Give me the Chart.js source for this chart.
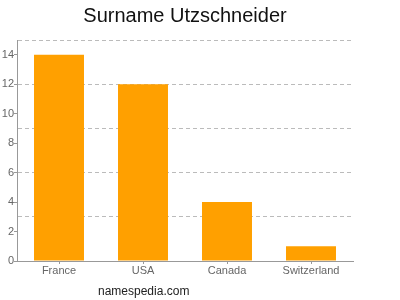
<!DOCTYPE html>
<html>
<head>
<meta charset="utf-8">
<script src="https://cdn.jsdelivr.net/npm/chart.js@4"></script>
<style>
  html, body { margin: 0; padding: 0; background: #fff; }
  #wrap { position: relative; width: 400px; height: 300px; }
  #c { display: block; }
  #wm { position: absolute; left: 98px; top: 284px; font: 12px "Liberation Sans", Arial, sans-serif; color: #222; white-space: nowrap; }
</style>
</head>
<body>
<div id="wrap">
  <canvas id="c" width="400" height="300"></canvas>
  <div id="wm">namespedia.com</div>
</div>
<script>
const titleText = "Surname Utzschneider";
const categories = ["France", "USA", "Canada", "Switzerland"];
const counts = [14, 12, 4, 1];
const yMax = 15;

const FONT = "'Liberation Sans', Arial, sans-serif";

new Chart(document.getElementById('c'), {
  type: 'bar',
  data: {
    labels: categories,
    datasets: [{
      data: counts,
      backgroundColor: '#ffa000',
      borderWidth: 0,
      categoryPercentage: 1,
      barPercentage: 0.595
    }]
  },
  options: {
    responsive: false,
    animation: false,
    layout: { padding: { left: 0, right: 30, top: 0, bottom: 0 } },
    plugins: {
      legend: { display: false },
      tooltip: { enabled: false },
      title: {
        display: true,
        text: titleText,
        color: '#111',
        font: { family: FONT, size: 20, weight: 'normal' },
        padding: { top: 4, bottom: 12 }
      }
    },
    scales: {
      x: {
        offset: true,
        grid: { display: true, drawOnChartArea: false, drawTicks: true, tickLength: 3, offset: false, color: '#999', tickColor: '#999' },
        border: { display: true, color: '#999', width: 1 },
        ticks: { color: '#666', font: { family: FONT, size: 11 }, padding: 0, maxRotation: 0, autoSkip: false },
        afterFit: (s) => { s.height = 39; }
      },
      y: {
        min: 0,
        max: yMax,
        ticks: {
          stepSize: 1,
          autoSkip: false,
          color: '#666',
          font: { family: FONT, size: 11 },
          padding: 0,
          callback: (v) => (v % 2 === 0 ? String(v) : '')
        },
        grid: {
          drawOnChartArea: true,
          drawTicks: true,
          tickLength: 3,
          color: (ctx) => (ctx.tick && ctx.tick.value > 0 && ctx.tick.value % 3 === 0 ? '#bbb' : 'rgba(0,0,0,0)'),
          tickColor: (ctx) => (ctx.tick && ctx.tick.value % 2 === 0 ? '#999' : 'rgba(0,0,0,0)')
        },
        border: { display: true, color: '#999', width: 1, dash: [4, 3] },
        afterFit: (s) => { s.width = 17; }
      },
      y2: {
        position: 'right',
        display: true,
        grid: { display: false, drawOnChartArea: false },
        ticks: { display: false },
        border: { display: false },
        afterFit: (s) => { s.width = 17; }
      }
    }
  }
});
</script>
</body>
</html>
